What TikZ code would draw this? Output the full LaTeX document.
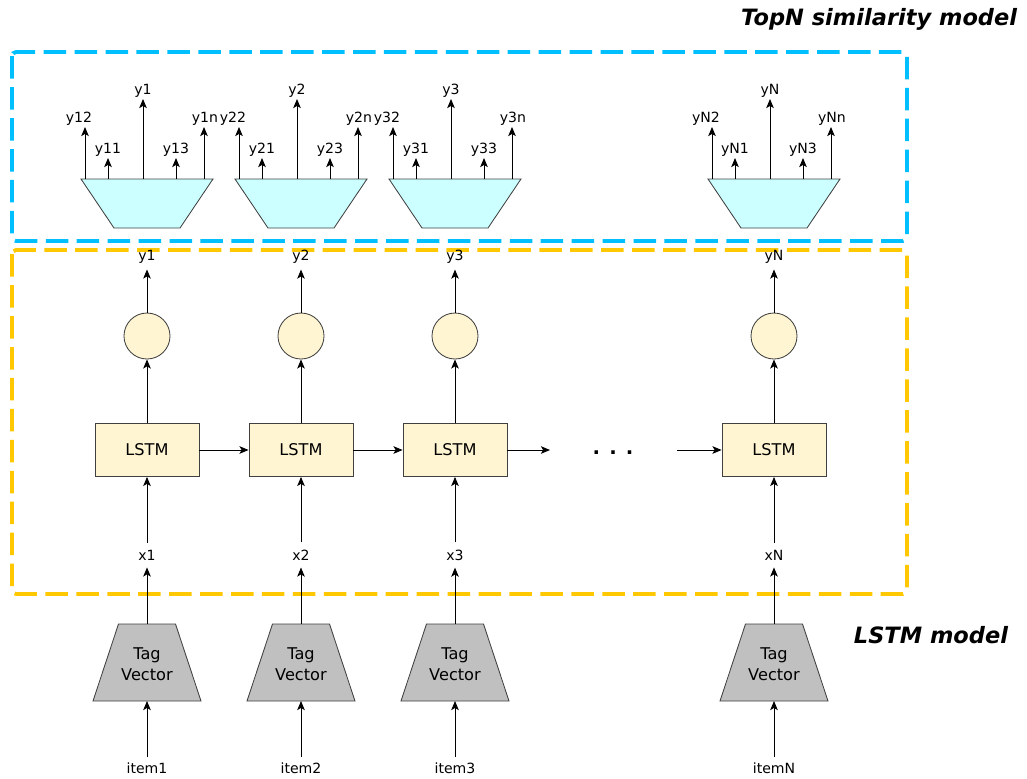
\documentclass[tikz,border=0pt]{standalone}
\usepackage{fontspec}
\setmainfont{DejaVu Sans}
\usetikzlibrary{arrows.meta}

\definecolor{cellfill}{HTML}{FFF5D2}
\definecolor{simfill}{HTML}{CCFFFF}
\definecolor{tagfill}{HTML}{C0C0C0}
\definecolor{topnblue}{HTML}{00BFFF}
\definecolor{lstmgold}{HTML}{FFC800}

\begin{document}
\begin{tikzpicture}[x=0.025cm, y=-0.025cm,
  >={Stealth[length=6.5pt,width=5.4pt,inset=1.6pt]},
  lbl/.style={inner sep=4pt, font=\fontsize{10}{12}\selectfont},
  toplbl/.style={inner sep=1pt, anchor=south, font=\fontsize{10}{12}\selectfont},
  lstm/.style={draw=black!75, fill=cellfill, line width=0.6pt, minimum width=2.6cm,
    minimum height=1.325cm, font=\fontsize{11.5}{13}\selectfont},
  outc/.style={circle, draw=black!75, fill=cellfill, line width=0.6pt, minimum size=1.15cm, inner sep=0pt},
  flow/.style={->, line width=0.6pt},
  tagbox/.style={draw=black!75, fill=tagfill, line width=0.6pt},
  simbox/.style={draw=black!75, fill=simfill, line width=0.6pt},
  frame/.style={line width=2.8pt, dash pattern=on 16pt off 6pt, rounded corners=3pt},
  title/.style={anchor=east, font=\fontsize{16}{19}\selectfont\bfseries\itshape}]
  \useasboundingbox (0,0) rectangle (1027,778);

  % the two model frames
  \draw[frame, topnblue] (12,52) rectangle (907,241);
  \draw[frame, lstmgold] (12,250) rectangle (907,594);
  \node[title] (topntitle) at (1022,19) {TopN similarity model};
  \node[title] (lstmtitle) at (1013,635) {LSTM model};

  \foreach \cx/\i in {147/1, 301/2, 455/3, 774/N} {
    \node[lbl] (it\i) at (\cx,768) {item\i};
    \draw[tagbox] (\cx-54,701) -- (\cx-28.5,624) -- (\cx+28.5,624) -- (\cx+54,701) -- cycle;
    \coordinate (tvb\i) at (\cx,701);
    \coordinate (tvt\i) at (\cx,624);
    \node[align=center, inner sep=0pt, font=\fontsize{11.5}{15}\selectfont] (tv\i) at (\cx,664) {Tag\\Vector};
    \node[lbl, inner sep=5pt] (x\i) at (\cx,555) {x\i};
    \node[lstm] (ls\i) at (\cx,450) {LSTM};
    \node[outc] (oc\i) at (\cx,336) {};
    \node[lbl] (y\i) at (\cx,257) {y\i};
    \draw[flow] (it\i) -- (tvb\i);
    \draw[flow] (tvt\i) -- (x\i);
    \draw[flow] (x\i) -- (ls\i);
    \draw[flow] (ls\i) -- (oc\i);
    \draw[flow] (oc\i) -- (y\i);

    % similarity head
    \draw[simbox] (\cx-66,179) -- (\cx+66,179) -- (\cx+33,228) -- (\cx-33,228) -- cycle;
    \foreach \dx/\tip/\k/\s/\lx in {-62/127/b/2/-6, -39/158/a/1/0, -4/99/m/{}/0, 29/158/c/3/0, 57/127/n/n/1} {
      \coordinate (sb\i\k) at (\cx+\dx,179);
      \node[toplbl] (sim\i\k) at (\cx+\dx+\lx,\tip) {y\i\s};
      \draw[flow] (sb\i\k) -- (sb\i\k |- sim\i\k.south);
    }
  }

  \draw[flow] (ls1) -- (ls2);
  \draw[flow] (ls2) -- (ls3);
  \coordinate (hout) at (550,450);
  \coordinate (hin) at (677,450);
  \draw[flow] (ls3) -- (hout);
  \node[anchor=base, font=\fontsize{14}{16}\selectfont\bfseries] (dots) at (613,454) {. . .};
  \draw[flow] (hin) -- (lsN);
\end{tikzpicture}
\end{document}
